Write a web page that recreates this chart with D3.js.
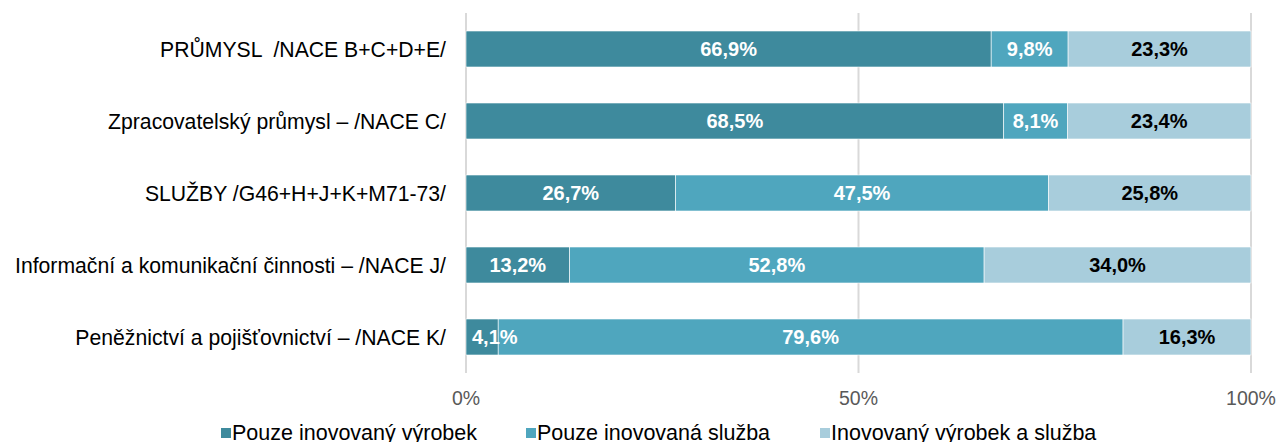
<!DOCTYPE html>
<html>
<head>
<meta charset="utf-8">
<script src="https://cdn.jsdelivr.net/npm/d3@7"></script>
<style>
  body { margin: 0; background: #fff; }
  svg { display: block; font-family: "Liberation Sans", Arial, sans-serif; }
</style>
</head>
<body>
<div id="chart"></div>
<script>
// Data
const categories = [
    "PRŮMYSL  /NACE B+C+D+E/",
    "Zpracovatelský průmysl – /NACE C/",
    "SLUŽBY /G46+H+J+K+M71-73/",
    "Informační a komunikační činnosti – /NACE J/",
    "Peněžnictví a pojišťovnictví – /NACE K/"
]
const seriesNames = ["Pouze inovovaný výrobek", "Pouze inovovaná služba", "Inovovaný výrobek a služba"]
const productOnly = [66.9, 68.5, 26.7, 13.2, 4.1]
const serviceOnly = [9.8, 8.1, 47.5, 52.8, 79.6]
const both = [23.3, 23.4, 25.8, 34.0, 16.3]
const tickValues = [0, 50, 100]
const tickLabels = ["0%", "50%", "100%"]

const colors = ["#3e8a9d", "#4fa6be", "#a8cddc"]
const labelColors = ["#fff", "#fff", "#000"]

const width = 1278
const height = 442

const svg = d3.select("#chart")
    .append("svg")
    .attr("width", width)
    .attr("height", height)

const x = d3.scaleLinear().domain([0, 100]).range([466, 1251])
const y = d3.scaleBand().domain(categories).range([13, 373]).paddingInner(0.5).paddingOuter(0.25)

// gridlines
svg.append("g")
    .selectAll("line")
    .data(tickValues)
    .join("line")
        .attr("x1", d => x(d))
        .attr("x2", d => x(d))
        .attr("y1", 13)
        .attr("y2", 373)
        .attr("stroke", "#d9d9d9")
        .attr("stroke-width", 2)

// stack the series
const rows = categories.map((c, i) => ({cat: c, s0: productOnly[i], s1: serviceOnly[i], s2: both[i]}))
const stack = d3.stack().keys(["s0", "s1", "s2"])(rows)

const layers = svg.append("g")
    .selectAll("g")
    .data(stack)
    .join("g")
        .attr("fill", (d, i) => colors[i])

layers.selectAll("rect")
    .data(d => d)
    .join("rect")
        .attr("x", d => x(d[0]))
        .attr("y", d => y(d.data.cat))
        .attr("width", d => x(d[1]) - x(d[0]))
        .attr("height", y.bandwidth())
        .attr("stroke", "#fff")
        .attr("stroke-width", 0.6)

// value labels
const fmt = v => v.toFixed(1).replace(".", ",") + "%"
stack.forEach((layer, li) => {
    svg.append("g")
        .selectAll("text")
        .data(layer)
        .join("text")
            .attr("x", d => x((d[0] + d[1]) / 2))
            .attr("y", d => y(d.data.cat) + y.bandwidth() / 2)
            .attr("dy", "0.36em")
            .attr("text-anchor", "middle")
            .attr("font-weight", "bold")
            .attr("font-size", 20)
            .attr("fill", labelColors[li])
            .text(d => fmt(d[1] - d[0]))
            .each(function(d) {
                // keep narrow labels from running past the left edge
                const w = this.getComputedTextLength()
                const left = x(d[0]) + 6
                if (x((d[0] + d[1]) / 2) - w / 2 < left) {
                    d3.select(this).attr("x", left + w / 2)
                }
            })
})

// category labels
svg.append("g")
    .selectAll("text")
    .data(categories)
    .join("text")
        .attr("x", 446)
        .attr("y", d => y(d) + y.bandwidth() / 2)
        .attr("dy", "0.36em")
        .attr("text-anchor", "end")
        .attr("font-size", 21.2)
        .attr("fill", "#000")
        .style("white-space", "pre")
        .text(d => d)

// x axis tick labels
svg.append("g")
    .selectAll("text")
    .data(tickValues)
    .join("text")
        .attr("x", d => x(d))
        .attr("y", 405)
        .attr("text-anchor", "middle")
        .attr("font-size", 19.5)
        .attr("fill", "#595959")
        .text((d, i) => tickLabels[i])

// legend
const legendX = [221, 526, 820]
const legend = svg.append("g")
    .selectAll("g")
    .data(seriesNames)
    .join("g")
        .attr("transform", (d, i) => `translate(${legendX[i]},0)`)

legend.append("rect")
    .attr("x", 0)
    .attr("y", 428)
    .attr("width", 10)
    .attr("height", 10)
    .attr("fill", (d, i) => colors[i])

legend.append("text")
    .attr("x", 11)
    .attr("y", 440)
    .attr("font-size", 21.5)
    .attr("fill", "#000")
    .text(d => d)
</script>
</body>
</html>
